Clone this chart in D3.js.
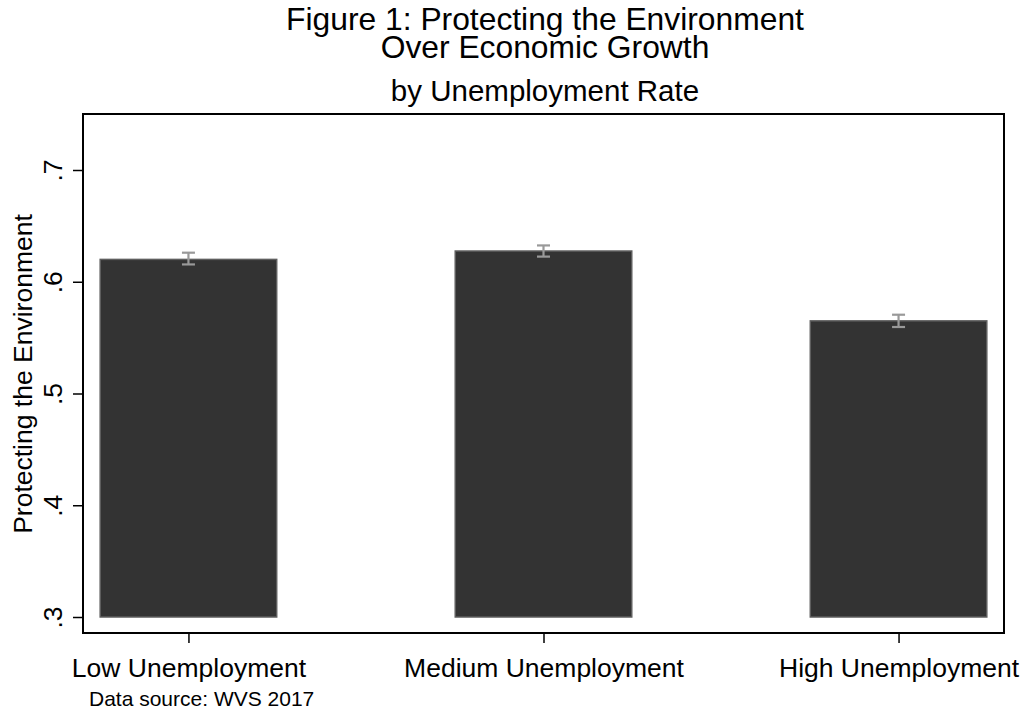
<!DOCTYPE html>
<html><head><meta charset="utf-8">
<script src="https://cdn.jsdelivr.net/npm/d3@7"></script>
<style>body{margin:0;background:#fff}svg{display:block;font-family:"Liberation Sans",Arial,sans-serif}</style>
</head><body>
<script>
const categories = ["Low Unemployment", "Medium Unemployment", "High Unemployment"];
const means = [0.620, 0.6275, 0.565];
const ciLow = [0.6155, 0.6225, 0.5595];
const ciHigh = [0.626, 0.6325, 0.5705];
const yTicks = [0.3, 0.4, 0.5, 0.6, 0.7];
const yTickLabels = [".3", ".4", ".5", ".6", ".7"];

const W = 1024, H = 710;
const frame = {left: 83, top: 114, right: 1004, bottom: 633};
const svg = d3.select("body").append("svg").attr("width", W).attr("height", H);

const y = d3.scaleLinear().domain([0.3, 0.7]).range([617, 170]);
const x = d3.scalePoint().domain(categories).range([frame.left, frame.right]).padding(0.297);
const barW = x.step() / 2;

// frame
svg.append("rect").attr("x", frame.left).attr("y", frame.top)
  .attr("width", frame.right - frame.left).attr("height", frame.bottom - frame.top)
  .attr("fill", "none").attr("stroke", "#000").attr("stroke-width", 2);

// bars
svg.selectAll("rect.bar").data(categories).enter().append("rect").attr("class", "bar")
  .attr("x", d => x(d) - barW / 2 + 0.5)
  .attr("y", (d, i) => y(means[i]))
  .attr("width", barW - 1)
  .attr("height", (d, i) => y(0.3) - y(means[i]))
  .attr("fill", "#333333").attr("stroke", "#5e5e5e").attr("stroke-width", 1.5);

// error bars
const eg = svg.append("g").attr("stroke", "#999999").attr("stroke-width", 2.2);
categories.forEach((c, i) => {
  const cx = x(c);
  eg.append("line").attr("x1", cx).attr("x2", cx).attr("y1", y(ciLow[i])).attr("y2", y(ciHigh[i]));
  eg.append("line").attr("x1", cx - 6.5).attr("x2", cx + 6.5).attr("y1", y(ciLow[i])).attr("y2", y(ciLow[i]));
  eg.append("line").attr("x1", cx - 6.5).attr("x2", cx + 6.5).attr("y1", y(ciHigh[i])).attr("y2", y(ciHigh[i]));
});

// y axis
const yAxis = d3.axisLeft(y).tickValues(yTicks).tickFormat((d, i) => yTickLabels[i]).tickSize(10).tickPadding(0);
const yg = svg.append("g").attr("transform", `translate(${frame.left},0)`).call(yAxis);
yg.select(".domain").remove();
yg.selectAll(".tick line").attr("stroke", "#000").attr("stroke-width", 1.5);
yg.selectAll(".tick text").attr("font-size", 26.5).attr("fill", "#000")
  .attr("transform", "translate(-21,0) rotate(-90)").attr("x", 0).attr("y", 0)
  .attr("text-anchor", "middle").attr("dy", 0);

// x axis
const xAxis = d3.axisBottom(x).tickSize(10).tickPadding(15);
const xg = svg.append("g").attr("transform", `translate(0,${frame.bottom})`).call(xAxis);
xg.select(".domain").remove();
xg.selectAll(".tick line").attr("stroke", "#000").attr("stroke-width", 1.5);
xg.selectAll(".tick text").attr("font-size", 26.5).attr("fill", "#000");

// y label
svg.append("text").attr("transform", "translate(32,374) rotate(-90)")
  .attr("text-anchor", "middle").attr("font-size", 26.5).text("Protecting the Environment");

// titles
svg.append("text").attr("x", 545).attr("y", 30).attr("text-anchor", "middle").attr("font-size", 31.8)
  .text("Figure 1: Protecting the Environment");
svg.append("text").attr("x", 545).attr("y", 58).attr("text-anchor", "middle").attr("font-size", 31.8)
  .text("Over Economic Growth");
svg.append("text").attr("x", 545).attr("y", 101).attr("text-anchor", "middle").attr("font-size", 29.5)
  .text("by Unemployment Rate");

// note
svg.append("text").attr("x", 89).attr("y", 706).attr("font-size", 21).text("Data source: WVS 2017");
</script>
</body></html>
